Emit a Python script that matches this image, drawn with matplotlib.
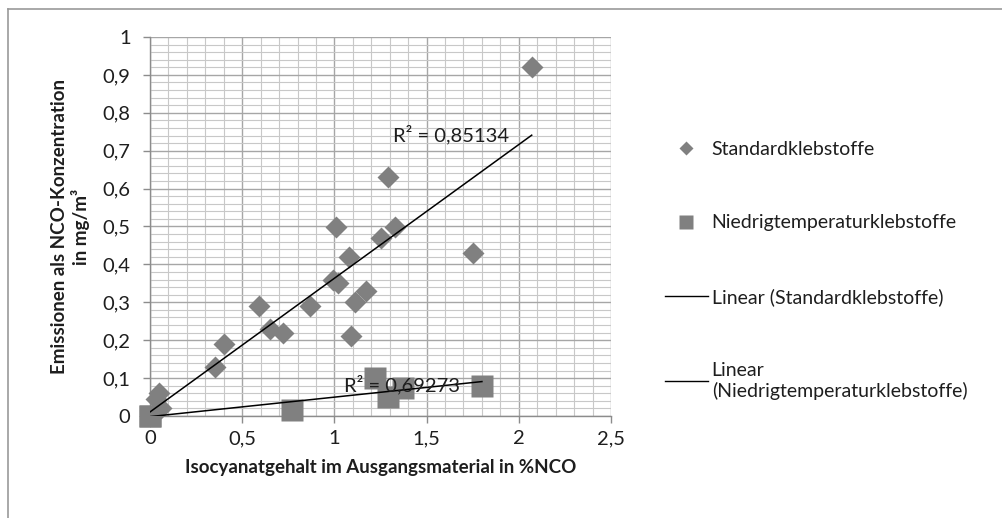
import numpy as np
import matplotlib
matplotlib.use("Agg")
import matplotlib.pyplot as plt
from matplotlib.lines import Line2D
from matplotlib.ticker import MultipleLocator, FuncFormatter

plt.rcParams['font.family'] = ['Lato', 'DejaVu Sans']

# Data
x_std = [2.07, 1.29, 1.01, 1.33, 1.25, 1.08, 1.75, 0.99, 1.02, 1.17, 1.11,
         0.59, 0.87, 0.65, 0.72, 1.09, 0.40, 0.35, 0.05, 0.03, 0.06, 0.0]
y_std = [0.92, 0.63, 0.50, 0.50, 0.47, 0.42, 0.43, 0.36, 0.35, 0.33, 0.30,
         0.29, 0.29, 0.23, 0.22, 0.21, 0.19, 0.13, 0.06, 0.045, 0.02, 0.0]
x_nt = [0.0, 0.0, 0.77, 1.22, 1.29, 1.37, 1.80]
y_nt = [0.0, 0.0, 0.015, 0.10, 0.05, 0.075, 0.08]
r2_labels = ["R² = 0,85134", "R² = 0,69273"]
r2_pos = [(1.32, 0.742), (1.05, 0.082)]
legend_labels = ["Standardklebstoffe", "Niedrigtemperaturklebstoffe",
                 "Linear (Standardklebstoffe)", "Linear\n(Niedrigtemperaturklebstoffe)"]
xlabel = "Isocyanatgehalt im Ausgangsmaterial in %NCO"
ylabel = "Emissionen als NCO-Konzentration\nin mg/m³"

gray = "#808080"
txt = "#1e1e1e"
fig = plt.figure(figsize=(10.03, 5.18), dpi=100)
ax = fig.add_axes([150/1003, 1-416/518, 461/1003, 379/518])

ax.set_xlim(0, 2.5)
ax.set_ylim(0, 1.0)
ax.xaxis.set_major_locator(MultipleLocator(0.5))
ax.xaxis.set_minor_locator(MultipleLocator(0.1))
ax.yaxis.set_major_locator(MultipleLocator(0.1))
ax.yaxis.set_minor_locator(MultipleLocator(0.02))
fmt = FuncFormatter(lambda v, p: ("%g" % round(v, 2)).replace(".", ","))
ax.xaxis.set_major_formatter(fmt)
ax.yaxis.set_major_formatter(fmt)

ax.grid(which='major', color='#a6a6a6', lw=1.0)
ax.grid(which='minor', color='#c8c8c8', lw=0.8)
ax.set_axisbelow(True)
for s in ['top', 'right']:
    ax.spines[s].set_visible(False)
for s in ['left', 'bottom']:
    ax.spines[s].set_color('#8c8c8c')
    ax.spines[s].set_linewidth(1.0)
ax.tick_params(which='major', length=5, width=1, color='#8c8c8c',
               labelsize=14.5, labelcolor=txt)
ax.tick_params(axis='y', which='major', pad=9)
ax.tick_params(axis='x', which='major', pad=5)
ax.tick_params(which='minor', length=0)

ax.plot(x_std, y_std, 'D', ms=11, color=gray, mec='none', clip_on=False, zorder=3)
ax.plot(x_nt, y_nt, 's', ms=15.5, color=gray, mec='none', clip_on=False, zorder=3)

for xs, ys in [(x_std, y_std), (x_nt, y_nt)]:
    xs = np.array(xs); ys = np.array(ys)
    m, b = np.polyfit(xs, ys, 1)
    xx = np.array([xs.min(), xs.max()])
    ax.plot(xx, m*xx + b, color='black', lw=1.1, zorder=4)

for lab, (px, py) in zip(r2_labels, r2_pos):
    ax.text(px, py, lab, fontsize=14.5, va='center', ha='left', color=txt, zorder=5)

ax.set_xlabel(xlabel, fontsize=13.5, fontweight='bold', labelpad=9, color=txt)
ax.set_ylabel(ylabel, fontsize=13.5, fontweight='bold', labelpad=9, color=txt)

handles = [Line2D([], [], ls='none', marker='D', ms=7, color=gray, mec='none'),
           Line2D([], [], ls='none', marker='s', ms=10, color=gray, mec='none'),
           Line2D([], [], color='black', lw=1.0),
           Line2D([], [], color='black', lw=1.0)]
fig.legend(handles, legend_labels, loc='upper left',
           bbox_to_anchor=(665/1003, 1-141/518), frameon=False,
           borderpad=0, borderaxespad=0,
           fontsize=14, labelspacing=2.9, handlelength=2.2, handletextpad=0.2,
           labelcolor=txt)

fig.add_artist(Line2D([8/1003, 8/1003], [0, 1-9/518], color='#999999', lw=1.2,
                      transform=fig.transFigure))
fig.add_artist(Line2D([8/1003, 1], [1-9/518, 1-9/518], color='#999999', lw=1.2,
                      transform=fig.transFigure))

fig.savefig("out.png", dpi=100)
